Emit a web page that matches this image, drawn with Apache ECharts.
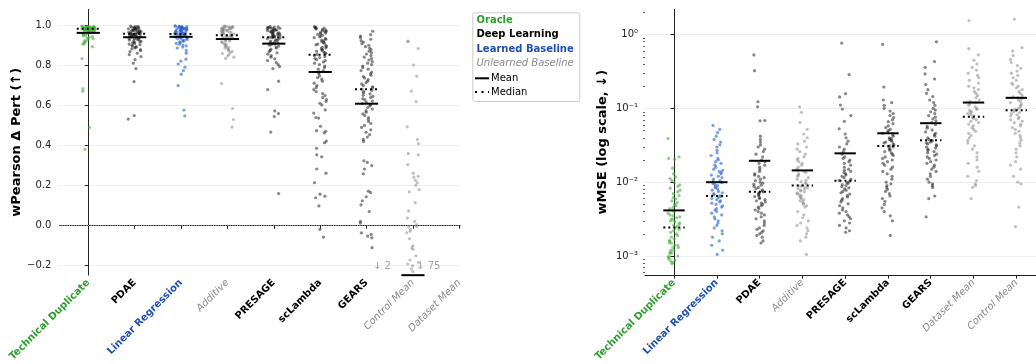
<!DOCTYPE html>
<html>
<head>
<meta charset="utf-8">
<script src="https://cdn.jsdelivr.net/npm/echarts@6/dist/echarts.min.js"></script>
<style>
  html, body { margin: 0; padding: 0; background: #fff; }
  #chart { width: 1036px; height: 364px; }
</style>
</head>
<body>
<div id="chart"></div>
<script>
// ---------- Left panel: wPearson delta per perturbation ----------
const pearsonCategories = ['Technical Duplicate', 'PDAE', 'Linear Regression', 'Additive', 'PRESAGE', 'scLambda', 'GEARS', 'Control Mean', 'Dataset Mean'];
const pearsonGroups = ['oracle', 'dl', 'lb', 'ub', 'dl', 'dl', 'dl', 'ub', 'ub'];

const pearsonTechnicalDuplicate = [0.998,0.997,0.996,0.995,0.995,0.994,0.993,0.993,0.992,0.992,0.991,0.991,0.990,0.990,0.989,0.989,0.988,0.988,0.987,0.987,0.986,0.986,0.985,0.985,0.985,0.984,0.984,0.983,0.983,0.982,0.982,0.981,0.980,0.980,0.979,0.978,0.977,0.976,0.975,0.974,0.973,0.972,0.970,0.969,0.967,0.965,0.963,0.961,0.958,0.955,0.952,0.948,0.945,0.942,0.938,0.935,0.930,0.925,0.920,0.915,0.910,0.908,0.895,0.835,0.685,0.672,0.49,0.38];
const pearsonPDAE = [0.998,0.996,0.995,0.993,0.992,0.990,0.989,0.988,0.986,0.985,0.984,0.982,0.981,0.980,0.978,0.977,0.975,0.974,0.972,0.971,0.970,0.968,0.967,0.965,0.964,0.963,0.962,0.960,0.959,0.958,0.957,0.956,0.955,0.953,0.952,0.950,0.948,0.946,0.945,0.943,0.941,0.940,0.938,0.936,0.934,0.932,0.930,0.928,0.925,0.922,0.920,0.917,0.914,0.911,0.908,0.905,0.902,0.898,0.895,0.892,0.888,0.884,0.880,0.875,0.870,0.862,0.855,0.845,0.830,0.812,0.785,0.720,0.550,0.532];
const pearsonLinearRegression = [0.999,0.998,0.997,0.996,0.995,0.994,0.993,0.992,0.991,0.990,0.989,0.988,0.987,0.985,0.984,0.983,0.982,0.980,0.979,0.978,0.976,0.975,0.974,0.972,0.971,0.970,0.968,0.967,0.965,0.963,0.962,0.960,0.959,0.958,0.956,0.955,0.953,0.951,0.950,0.948,0.946,0.944,0.942,0.940,0.938,0.936,0.934,0.931,0.928,0.925,0.922,0.919,0.915,0.911,0.907,0.903,0.899,0.893,0.888,0.876,0.862,0.832,0.822,0.808,0.792,0.775,0.757,0.700,0.577,0.548];
const pearsonAdditive = [0.998,0.997,0.996,0.995,0.994,0.993,0.991,0.990,0.989,0.987,0.986,0.985,0.983,0.982,0.980,0.979,0.977,0.975,0.974,0.972,0.970,0.968,0.966,0.964,0.962,0.960,0.958,0.956,0.954,0.952,0.950,0.948,0.946,0.944,0.942,0.940,0.937,0.934,0.931,0.928,0.925,0.922,0.919,0.916,0.912,0.908,0.904,0.900,0.896,0.892,0.888,0.884,0.880,0.875,0.870,0.865,0.860,0.855,0.848,0.842,0.836,0.710,0.585,0.530,0.492];
const pearsonPRESAGE = [0.996,0.994,0.993,0.991,0.990,0.988,0.987,0.985,0.984,0.982,0.980,0.979,0.977,0.975,0.973,0.971,0.970,0.968,0.966,0.964,0.962,0.960,0.958,0.956,0.954,0.952,0.950,0.948,0.946,0.944,0.942,0.940,0.938,0.935,0.932,0.929,0.926,0.923,0.920,0.917,0.914,0.911,0.908,0.905,0.902,0.898,0.893,0.888,0.882,0.876,0.870,0.864,0.857,0.850,0.842,0.834,0.825,0.815,0.805,0.795,0.785,0.722,0.680,0.573,0.560,0.545,0.467,0.159];
const pearsonScLambda = [0.995,0.993,0.990,0.988,0.986,0.983,0.981,0.978,0.975,0.972,0.969,0.966,0.963,0.960,0.956,0.952,0.948,0.944,0.940,0.936,0.932,0.928,0.924,0.920,0.916,0.912,0.908,0.904,0.900,0.896,0.892,0.888,0.884,0.880,0.876,0.872,0.868,0.864,0.860,0.856,0.850,0.845,0.840,0.835,0.830,0.825,0.818,0.812,0.805,0.798,0.790,0.782,0.775,0.768,0.760,0.748,0.740,0.732,0.722,0.712,0.700,0.690,0.680,0.670,0.660,0.650,0.640,0.630,0.620,0.611,0.603,0.578,0.562,0.540,0.537,0.496,0.474,0.471,0.463,0.422,0.414,0.386,0.353,0.343,0.282,0.261,0.213,0.156,0.146,0.138,0.097,-0.021,-0.059];
const pearsonGEARS = [0.972,0.955,0.948,0.940,0.932,0.925,0.918,0.910,0.902,0.895,0.888,0.880,0.872,0.865,0.858,0.850,0.842,0.835,0.828,0.820,0.812,0.805,0.798,0.790,0.782,0.775,0.768,0.760,0.752,0.745,0.738,0.730,0.722,0.715,0.708,0.700,0.694,0.688,0.682,0.676,0.670,0.664,0.658,0.652,0.646,0.640,0.634,0.628,0.622,0.616,0.610,0.604,0.598,0.590,0.582,0.574,0.566,0.558,0.550,0.540,0.530,0.520,0.510,0.500,0.490,0.478,0.466,0.454,0.442,0.430,0.420,0.323,0.315,0.299,0.282,0.258,0.171,0.164,0.143,0.123,0.102,0.069,0.020,0.011,-0.038,-0.046,-0.054,-0.063,-0.112];
const pearsonControlMean = [0.923,0.920,0.885,0.803,0.747,0.672,0.619,0.493,0.430,0.409,0.360,0.353,0.304,0.261,0.245,0.241,0.225,0.213,0.200,0.179,0.167,0.113,0.072,0.036,0.020,0.003,-0.005,-0.008,-0.021,-0.030,-0.038,-0.067,-0.103,-0.112,-0.120,-0.153,-0.174,-0.186,-0.194,-0.202,-0.218,-0.232];
const pearsonDatasetMean = [];

const pearsonMeans   = [0.964, 0.942, 0.944, 0.933, 0.910, 0.768, 0.609, -0.25, null];
const pearsonMedians = [0.985, 0.959, 0.958, 0.952, 0.942, 0.854, 0.681, null, null];
// number of points below the lower axis limit
const pearsonBelowCounts = [0, 0, 0, 0, 0, 0, 2, 75, 0];
const pearsonTicks = [-0.2, 0.0, 0.2, 0.4, 0.6, 0.8, 1.0];

// ---------- Right panel: wMSE (log scale) ----------
const mseCategories = ['Technical Duplicate', 'Linear Regression', 'PDAE', 'Additive', 'PRESAGE', 'scLambda', 'GEARS', 'Dataset Mean', 'Control Mean'];
const mseGroups = ['oracle', 'lb', 'dl', 'ub', 'dl', 'dl', 'dl', 'ub', 'ub'];

const mseTechnicalDuplicate = [0.039,0.022,0.021,0.0205,0.0155,0.013,0.0118,0.0112,0.0105,0.0098,0.0092,0.0088,0.0083,0.0078,0.0074,0.0070,0.0066,0.0062,0.0059,0.0056,0.0053,0.0050,0.0048,0.0046,0.0044,0.0042,0.0040,0.0038,0.0036,0.0035,0.0034,0.0033,0.0032,0.0031,0.0030,0.0029,0.0028,0.0027,0.0026,0.0025,0.0024,0.0023,0.0022,0.0021,0.0020,0.0019,0.0018,0.0017,0.0016,0.0016,0.0015,0.0015,0.0014,0.0014,0.0013,0.0013,0.0012,0.0012,0.0011,0.0011,0.0011,0.0010,0.0010,0.00097,0.00094,0.00091,0.00088,0.00085,0.00082,0.00079];
const mseLinearRegression = [0.0587,0.052,0.047,0.042,0.038,0.035,0.032,0.030,0.027,0.025,0.023,0.021,0.020,0.019,0.018,0.017,0.016,0.015,0.0145,0.014,0.0135,0.013,0.0125,0.012,0.0115,0.011,0.0105,0.0102,0.0099,0.0096,0.0093,0.0090,0.0087,0.0084,0.0081,0.0078,0.0075,0.0072,0.0070,0.0068,0.0066,0.0064,0.0062,0.0060,0.0058,0.0056,0.0054,0.0052,0.0050,0.0048,0.0046,0.0044,0.0042,0.0040,0.0038,0.0036,0.0034,0.0032,0.0030,0.0028,0.0026,0.0024,0.0022,0.0020,0.0018,0.0016,0.0014,0.0012,0.00105];
const msePDAE = [0.53,0.324,0.123,0.105,0.0685,0.068,0.042,0.038,0.035,0.032,0.030,0.028,0.026,0.024,0.022,0.020,0.019,0.018,0.017,0.016,0.015,0.014,0.013,0.0125,0.012,0.0115,0.011,0.0105,0.010,0.0097,0.0094,0.0091,0.0088,0.0085,0.0082,0.0079,0.0076,0.0074,0.0072,0.0070,0.0068,0.0066,0.0064,0.0062,0.0060,0.0058,0.0056,0.0054,0.0052,0.0050,0.0048,0.0046,0.0044,0.0042,0.0040,0.0038,0.0036,0.0034,0.0032,0.0030,0.0028,0.0026,0.0024,0.0023,0.0022,0.0021,0.0020,0.0019,0.0018,0.0016,0.0015];
const mseAdditive = [0.105,0.0885,0.0644,0.052,0.045,0.040,0.036,0.033,0.030,0.028,0.026,0.024,0.022,0.021,0.020,0.019,0.018,0.017,0.016,0.015,0.0145,0.014,0.0135,0.013,0.0125,0.012,0.0115,0.011,0.0106,0.0102,0.0098,0.0095,0.0092,0.0090,0.0088,0.0086,0.0084,0.0082,0.0080,0.0078,0.0076,0.0074,0.0072,0.0070,0.0068,0.0066,0.0064,0.0062,0.0060,0.0058,0.0056,0.0054,0.0052,0.0050,0.0048,0.0046,0.0040,0.0036,0.0033,0.0030,0.0028,0.0026,0.0024,0.0022,0.0020,0.0018,0.0016,0.00105];
const msePRESAGE = [0.766,0.287,0.158,0.143,0.111,0.098,0.080,0.0667,0.053,0.045,0.040,0.036,0.033,0.030,0.028,0.026,0.024,0.022,0.021,0.020,0.019,0.018,0.017,0.016,0.015,0.0145,0.014,0.0135,0.013,0.0125,0.012,0.0115,0.011,0.0106,0.0102,0.0099,0.0096,0.0093,0.0090,0.0087,0.0084,0.0081,0.0078,0.0075,0.0072,0.0069,0.0066,0.0063,0.0060,0.0057,0.0054,0.0051,0.0048,0.0045,0.0042,0.0040,0.0038,0.0036,0.0034,0.0032,0.0030,0.0028,0.0026,0.0024,0.0022,0.0021];
const mseScLambda = [0.736,0.195,0.13,0.12,0.11,0.10,0.092,0.085,0.080,0.075,0.070,0.066,0.062,0.058,0.055,0.052,0.050,0.048,0.046,0.044,0.042,0.040,0.039,0.038,0.037,0.036,0.035,0.034,0.033,0.032,0.031,0.030,0.029,0.028,0.027,0.026,0.025,0.024,0.023,0.022,0.021,0.020,0.019,0.018,0.017,0.016,0.015,0.014,0.013,0.012,0.011,0.010,0.0095,0.009,0.0085,0.008,0.0075,0.007,0.0065,0.006,0.0055,0.005,0.0045,0.0040,0.0035,0.0030,0.0019];
const mseGEARS = [0.798,0.432,0.36,0.293,0.25,0.21,0.179,0.16,0.145,0.13,0.12,0.11,0.10,0.095,0.090,0.085,0.080,0.076,0.072,0.068,0.064,0.060,0.057,0.054,0.051,0.048,0.046,0.044,0.042,0.040,0.038,0.037,0.036,0.035,0.034,0.033,0.032,0.031,0.030,0.029,0.028,0.027,0.026,0.025,0.024,0.023,0.022,0.021,0.020,0.019,0.018,0.017,0.016,0.015,0.014,0.013,0.012,0.011,0.010,0.0095,0.0090,0.0085,0.0065,0.0060,0.0034];
const mseDatasetMean = [1.55,0.644,0.53,0.45,0.40,0.36,0.33,0.30,0.28,0.26,0.24,0.22,0.20,0.19,0.18,0.17,0.16,0.15,0.14,0.13,0.125,0.12,0.115,0.11,0.105,0.10,0.097,0.094,0.091,0.088,0.085,0.082,0.079,0.076,0.073,0.070,0.067,0.064,0.061,0.058,0.055,0.052,0.049,0.046,0.043,0.040,0.037,0.034,0.031,0.028,0.025,0.022,0.020,0.018,0.016,0.014,0.012,0.0105,0.0095,0.009,0.0085,0.006];
const mseControlMean = [1.62,0.664,0.60,0.52,0.46,0.42,0.38,0.35,0.32,0.30,0.28,0.26,0.24,0.22,0.21,0.20,0.19,0.18,0.17,0.16,0.15,0.145,0.14,0.135,0.13,0.125,0.12,0.115,0.11,0.105,0.10,0.097,0.094,0.091,0.088,0.085,0.082,0.079,0.076,0.073,0.070,0.067,0.064,0.061,0.058,0.055,0.052,0.049,0.046,0.043,0.040,0.037,0.034,0.031,0.028,0.025,0.022,0.019,0.017,0.015,0.012,0.010,0.0095,0.0046,0.0025];

const mseMeans   = [0.00415, 0.0100, 0.0195, 0.01445, 0.0246, 0.046, 0.063, 0.120, 0.139];
const mseMedians = [0.00244, 0.0065, 0.0074, 0.0090, 0.0105, 0.031, 0.037, 0.077, 0.094];
const mseTicks = [0.001, 0.01, 0.1, 1];

// ---------- styling ----------
const FONT = 'DejaVu Sans';
const groupStyle = {
  oracle: { label: { color: '#2ca02c', fontWeight: 'bold' }, point: 'rgba(70,175,60,0.75)' },
  dl:     { label: { color: '#000000', fontWeight: 'bold' }, point: 'rgba(25,25,25,0.65)' },
  lb:     { label: { color: '#1f4fb4', fontWeight: 'bold' }, point: 'rgba(40,95,205,0.75)' },
  ub:     { label: { color: '#8a8a8a', fontStyle: 'italic', fontWeight: 'normal' }, point: 'rgba(125,125,125,0.6)' }
};
const richLabels = {};
Object.keys(groupStyle).forEach(k => {
  richLabels[k] = Object.assign({ fontSize: 10, fontFamily: FONT }, groupStyle[k].label);
});

const pearsonValues = [pearsonTechnicalDuplicate, pearsonPDAE, pearsonLinearRegression, pearsonAdditive, pearsonPRESAGE, pearsonScLambda, pearsonGEARS, pearsonControlMean, pearsonDatasetMean];
const mseValues = [mseTechnicalDuplicate, mseLinearRegression, msePDAE, mseAdditive, msePRESAGE, mseScLambda, mseGEARS, mseDatasetMean, mseControlMean];

const JITTER = 0.14;     // half-width of the strip, in category units
const HALF_BAR = 0.25;   // half-width of the mean / median bars

// deterministic hash-based horizontal spread for the strip plot
function spread(k, c) {
  const h = Math.sin(k * 12.9898 + c * 78.233) * 43758.5453;
  const f = h - Math.floor(h);
  return (f - 0.5) * 2 * JITTER;
}

function stripSeries(values, groups, axisIndex) {
  return values.map((vals, c) => ({
    type: 'scatter',
    xAxisIndex: axisIndex, yAxisIndex: axisIndex,
    symbol: 'circle', symbolSize: 3.2,
    itemStyle: { color: groupStyle[groups[c]].point },
    silent: true,
    data: vals.map((v, k) => [c + spread(k, c), v])
  }));
}

function barSeries(stats, axisIndex, dotted) {
  return {
    type: 'custom',
    xAxisIndex: axisIndex, yAxisIndex: axisIndex,
    clip: false, silent: true, z: 5,
    data: stats.map((v, c) => v == null ? null : [c, v]).filter(d => d),
    renderItem: (params, api) => {
      const c = api.value(0), v = api.value(1);
      const p0 = api.coord([c - HALF_BAR, v]);
      const p1 = api.coord([c + HALF_BAR, v]);
      return {
        type: 'line',
        shape: { x1: p0[0], y1: p0[1], x2: p1[0], y2: p1[1] },
        style: { stroke: '#000', lineWidth: 2, lineDash: dotted ? [2, 3] : null, lineCap: 'butt' }
      };
    }
  };
}

function xAxisFor(cats, groups, gridIndex, min, max) {
  return {
    type: 'value', gridIndex, min, max,
    axisLine: { show: true, lineStyle: { color: '#222', width: 1 } },
    axisTick: { show: true, length: 3.5, lineStyle: { color: '#222' }, customValues: cats.map((_, i) => i) },
    splitLine: { show: false },
    axisLabel: {
      customValues: cats.map((_, i) => i),
      rotate: 45, margin: 6,
      formatter: v => '{' + groups[Math.round(v)] + '|' + cats[Math.round(v)] + '}',
      rich: richLabels
    }
  };
}

const supers = { '-': '\u207B', '0': '\u2070', '1': '\u00B9', '2': '\u00B2', '3': '\u00B3' };
function powLabel(v) {
  const e = String(Math.round(Math.log10(v)));
  return '10' + e.split('').map(ch => supers[ch]).join('');
}

const minorTicks = [];
[-4, -3, -2, -1, 0].forEach(e => { for (let m = 2; m <= 9; m++) minorTicks.push(m * Math.pow(10, e)); });

const MSE_MIN = 5.5e-4, MSE_MAX = 2.2;

const option = {
  animation: false,
  textStyle: { fontFamily: FONT },
  grid: [
    { left: 59.3, top: 9.3, width: 400.7, height: 270 },
    { left: 645, top: 9.3, width: 391, height: 270 }
  ],
  xAxis: [
    xAxisFor(pearsonCategories, pearsonGroups, 0, -0.625, 8.015),
    xAxisFor(mseCategories, mseGroups, 1, -0.678, 8.46)
  ],
  yAxis: [
    {
      type: 'value', gridIndex: 0, min: -0.25, max: 1.082,
      name: 'wPearson \u0394 Pert (\u2191)', nameLocation: 'middle', nameGap: 36, nameRotate: 90,
      nameTextStyle: { fontSize: 13, fontWeight: 'bold', color: '#000', fontFamily: FONT },
      axisLine: { show: true, lineStyle: { color: '#222', width: 1 } },
      axisTick: { show: true, length: 3.5, lineStyle: { color: '#222' }, customValues: pearsonTicks },
      axisLabel: {
        customValues: pearsonTicks, margin: 8, fontSize: 10, color: '#222',
        formatter: v => (v < 0 ? '\u2212' : '') + Math.abs(v).toFixed(1)
      },
      splitLine: { show: true, lineStyle: { color: '#d8d8d8', type: 'dotted', width: 0.8 } }
    },
    {
      type: 'log', logBase: 10, gridIndex: 1, min: MSE_MIN, max: MSE_MAX,
      name: 'wMSE (log scale, \u2193)', nameLocation: 'middle', nameGap: 36, nameRotate: 90,
      nameTextStyle: { fontSize: 13, fontWeight: 'bold', color: '#000', fontFamily: FONT },
      axisLine: { show: true, lineStyle: { color: '#222', width: 1 } },
      axisTick: { show: true, length: 3.5, lineStyle: { color: '#222' }, customValues: mseTicks },
      axisLabel: { customValues: mseTicks, margin: 7, fontSize: 10, color: '#222', formatter: powLabel },
      splitLine: { show: true, lineStyle: { color: '#d8d8d8', type: 'dotted', width: 0.8 } }
    },
    {
      type: 'log', logBase: 10, gridIndex: 1, min: MSE_MIN, max: MSE_MAX, position: 'left',
      axisLine: { show: false },
      axisTick: { show: true, length: 2, lineStyle: { color: '#333', width: 0.8 }, customValues: minorTicks },
      axisLabel: { show: false },
      splitLine: { show: false }
    }
  ],
  series: [
    ...stripSeries(pearsonValues, pearsonGroups, 0),
    {
      type: 'line', xAxisIndex: 0, yAxisIndex: 0, data: [], silent: true,
      markLine: {
        silent: true, symbol: 'none', label: { show: false },
        lineStyle: { color: '#909090', type: 'dotted', width: 1.2 },
        data: [{ yAxis: 0 }]
      }
    },
    barSeries(pearsonMeans, 0, false),
    barSeries(pearsonMedians, 0, true),
    {
      type: 'scatter', xAxisIndex: 0, yAxisIndex: 0, symbolSize: 0, silent: true,
      data: pearsonBelowCounts.map((n, c) => n > 0 ? { value: [c + 0.33, -0.207], n } : null).filter(d => d),
      label: {
        show: true, position: 'inside', fontSize: 10, color: '#888',
        formatter: p => '\u2193 ' + p.data.n
      }
    },
    ...stripSeries(mseValues, mseGroups, 1),
    barSeries(mseMeans, 1, false),
    barSeries(mseMedians, 1, true)
  ],
  graphic: [
    { type: 'rect', left: 472.3, top: 12.3, shape: { width: 107, height: 88.7, r: 2 },
      style: { fill: '#fff', stroke: '#cccccc', lineWidth: 1 }, z: 10 },
    { type: 'text', x: 476.5, y: 20.7, style: { text: 'Oracle', fill: '#2ca02c', font: 'bold 10px "DejaVu Sans"', verticalAlign: 'middle' }, z: 11 },
    { type: 'text', x: 476.5, y: 34.7, style: { text: 'Deep Learning', fill: '#000', font: 'bold 10px "DejaVu Sans"', verticalAlign: 'middle' }, z: 11 },
    { type: 'text', x: 476.5, y: 49.3, style: { text: 'Learned Baseline', fill: '#1f4fb4', font: 'bold 10px "DejaVu Sans"', verticalAlign: 'middle' }, z: 11 },
    { type: 'text', x: 476.5, y: 63.3, style: { text: 'Unlearned Baseline', fill: '#8a8a8a', font: 'italic 10px "DejaVu Sans"', verticalAlign: 'middle' }, z: 11 },
    { type: 'line', shape: { x1: 475, y1: 78.3, x2: 489, y2: 78.3 }, style: { stroke: '#000', lineWidth: 2 }, z: 11 },
    { type: 'text', x: 491, y: 78.3, style: { text: 'Mean', fill: '#000', font: '10px "DejaVu Sans"', verticalAlign: 'middle' }, z: 11 },
    { type: 'line', shape: { x1: 475, y1: 92, x2: 489, y2: 92 }, style: { stroke: '#000', lineWidth: 2, lineDash: [2, 4.5] }, z: 11 },
    { type: 'text', x: 491, y: 92, style: { text: 'Median', fill: '#000', font: '10px "DejaVu Sans"', verticalAlign: 'middle' }, z: 11 }
  ]
};

const chart = echarts.init(document.getElementById('chart'), null, { renderer: 'canvas' });
chart.setOption(option);
</script>
</body>
</html>
